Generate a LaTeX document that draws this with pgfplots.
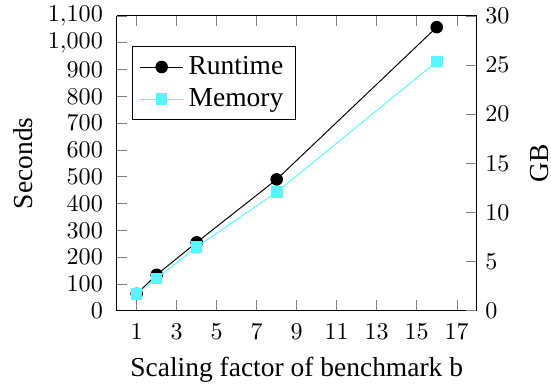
\documentclass[border=0pt]{standalone}
\usepackage{fontspec}
\setmainfont{Liberation Serif}
\usepackage{pgfplots}
\pgfplotsset{compat=1.18}
\definecolor{memc}{RGB}{90,245,250}
\begin{document}
\begin{tikzpicture}
\pgfplotsset{
  common/.style={
    scale only axis, width=149.4pt, height=122.3pt,
    xmin=0, xmax=18,
    label style={font=\fontsize{11.4}{13.7}\selectfont},
    tick label style={font=\fontsize{10}{12}\selectfont},
  }
}
\begin{axis}[common,
  ymin=0, ymax=1100,
  xtick={1,3,...,17},
  ytick={0,100,...,1100},
  axis y line*=left,
  yticklabel style={xshift=-2.2pt},
  xticklabel style={yshift=-1.9pt},
  xlabel={Scaling factor of benchmark b},
  xlabel style={at={(axis description cs:0.5,0)}, anchor=base, yshift=-27.1pt},
  ylabel={Seconds},
  ylabel style={at={(axis description cs:0,0.5)}, anchor=center, yshift=38.9pt},
  legend style={at={(0.042,0.898)}, anchor=north west, draw=black,
    font=\fontsize{11.4}{13.7}\selectfont, cells={anchor=west},
    row sep=0.3pt},
  legend image code/.code={\draw[mark repeat=2,mark phase=2,#1] plot coordinates {(0pt,0pt) (9pt,0pt) (18pt,0pt)};},
]
\addplot[black, line width=0.4pt, mark=*, mark size=2.4pt] coordinates {
  (1,63) (2,134) (4,255) (8,490) (16,1058)
};
\addlegendentry{Runtime}
\addlegendimage{memc, line width=0.4pt, mark=square*, mark size=2.2pt}
\addlegendentry{Memory}
\end{axis}
\begin{axis}[common,
  ymin=0, ymax=30,
  ytick={0,5,...,30},
  axis y line*=right,
  axis x line=none,
  ylabel={GB},
  ylabel style={at={(axis description cs:1,0.5)}, anchor=center, yshift=-25.9pt},
]
\addplot[memc, line width=0.4pt, mark=square*, mark size=2.2pt] coordinates {
  (1,1.71) (2,3.27) (4,6.48) (8,12.07) (16,25.36)
};
\end{axis}
\pgfresetboundingbox
\useasboundingbox (-48.4pt,-30pt) rectangle (180.2pt,128.9pt);
\end{tikzpicture}
\end{document}
